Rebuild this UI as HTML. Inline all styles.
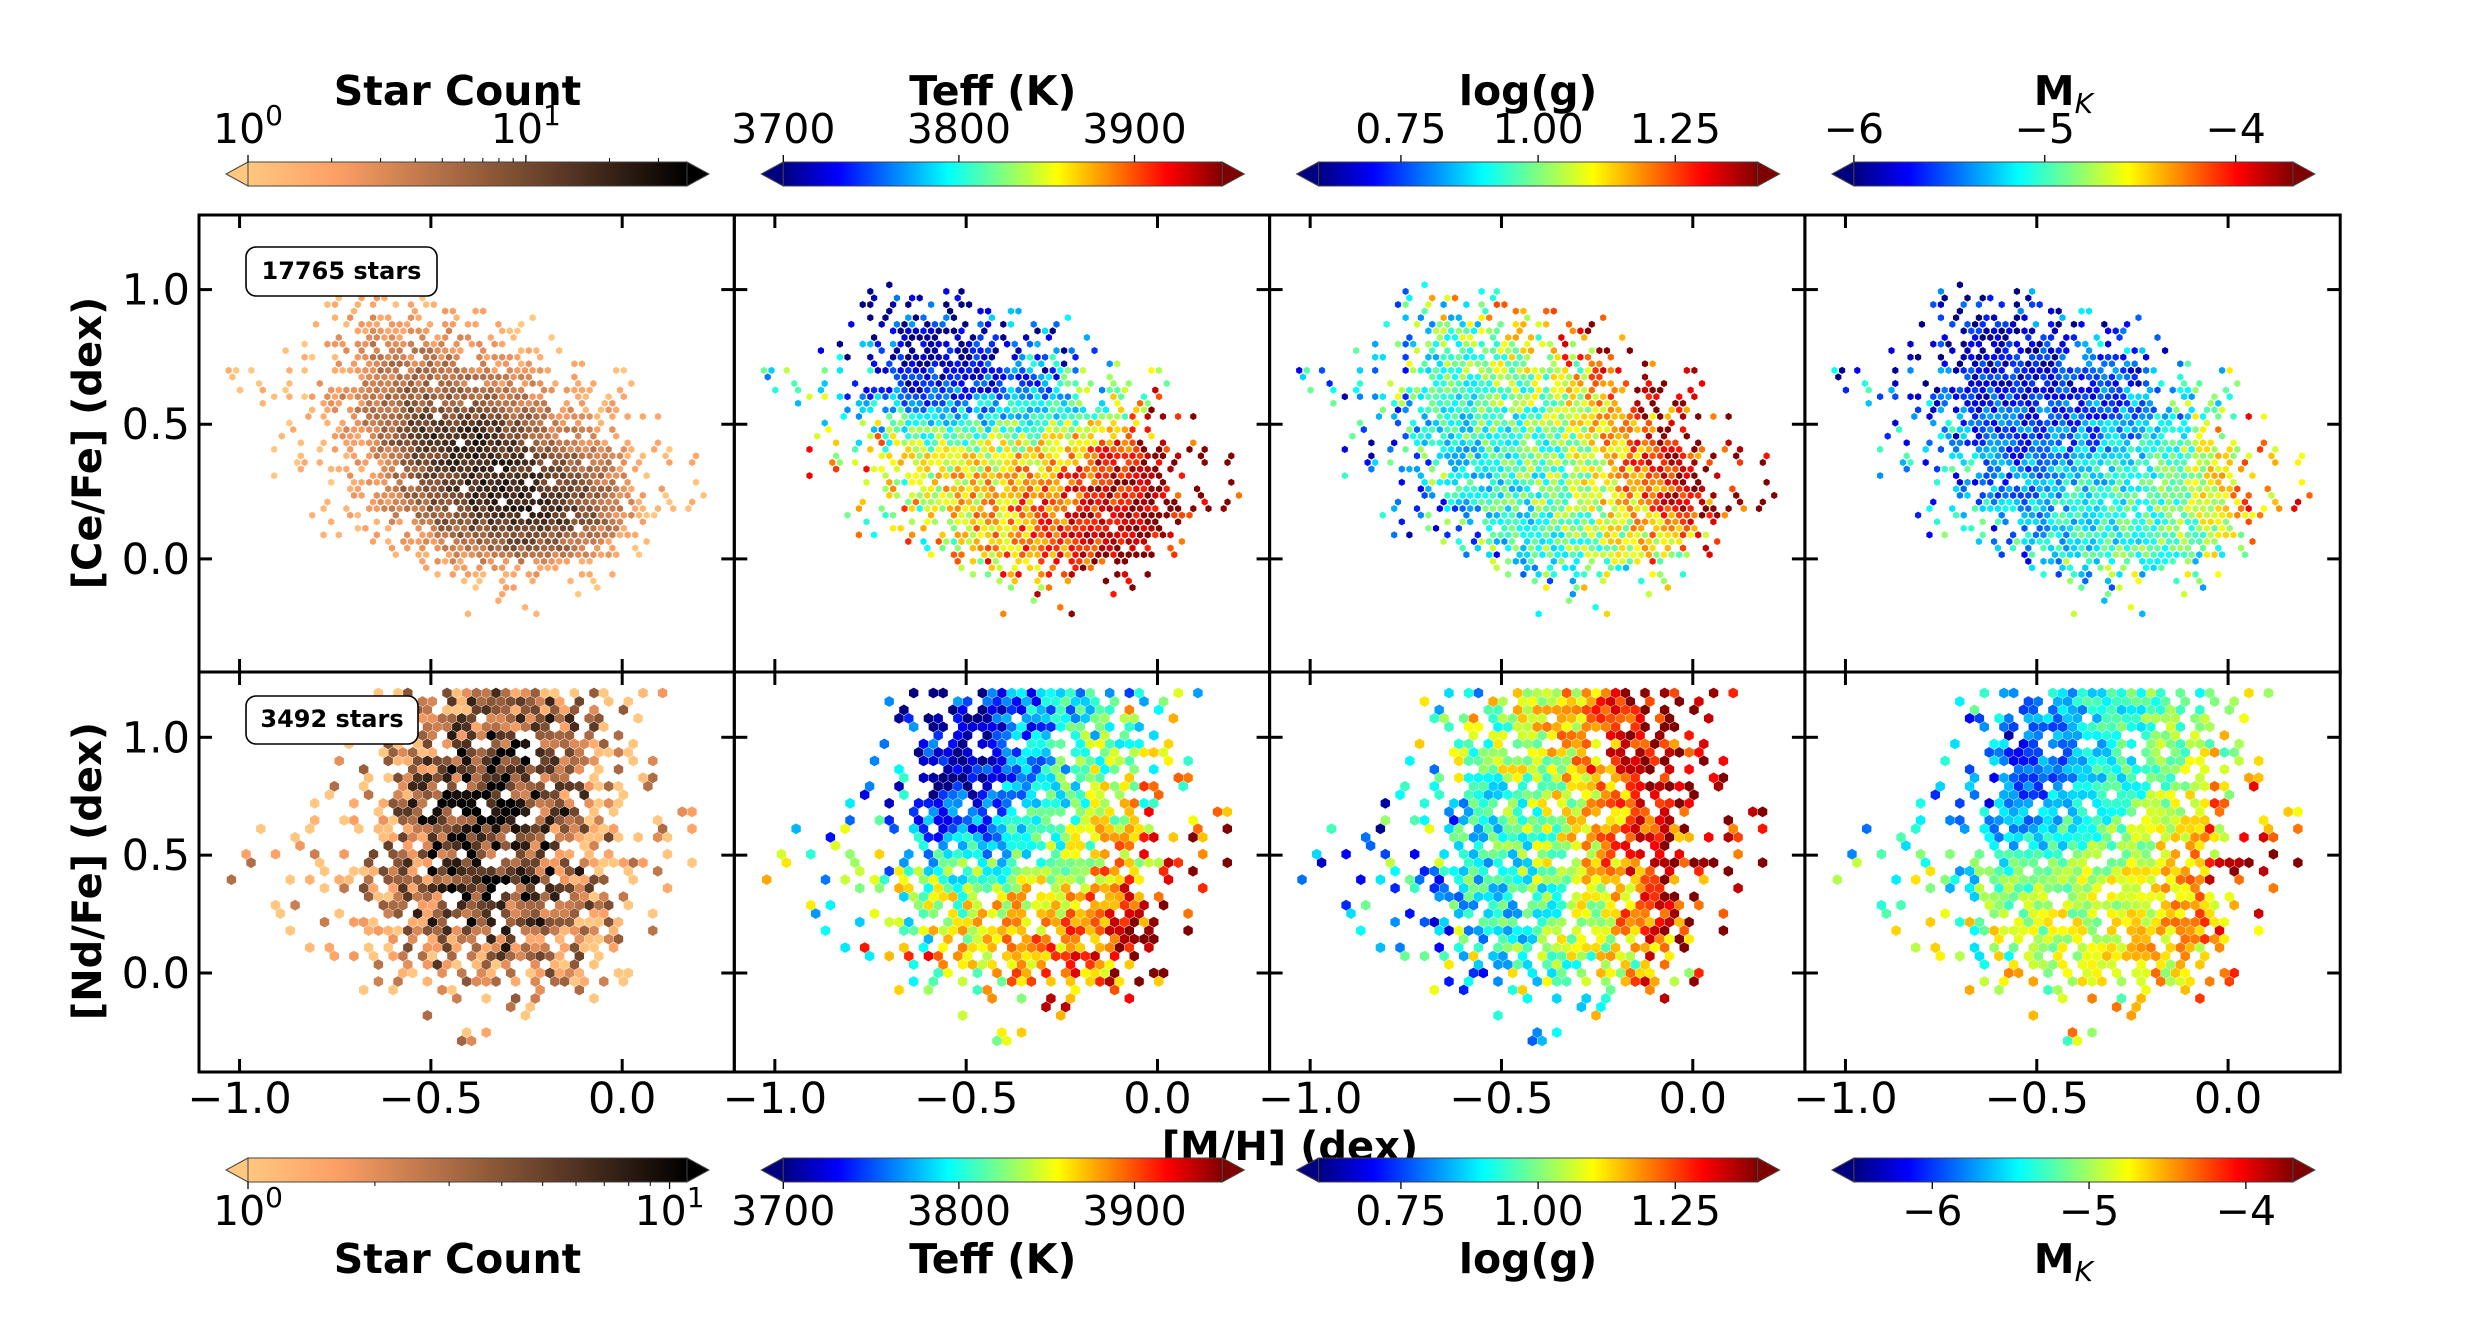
<!DOCTYPE html>
<html><head><meta charset="utf-8"><title>Abundance vs metallicity hexbin grid</title>
<style>
html,body{margin:0;padding:0;background:#fff;}
svg{display:block;font-family:"DejaVu Sans","Liberation Sans",sans-serif;}
</style></head>
<body>
<svg id="chart" width="2488" height="1337" viewBox="0 0 2488 1337" xmlns="http://www.w3.org/2000/svg">
<rect x="0" y="0" width="2488" height="1337" fill="#fff"/>
<defs id="defs"></defs>
<g id="dots"></g>
<g id="frames"></g>
<text x="1290" y="1160" font-size="40" font-weight="bold" text-anchor="middle">[M/H] (dex)</text>
<g id="cbars"></g>
<text transform="translate(101,443) rotate(-90)" font-size="40" font-weight="bold" text-anchor="middle" font-family="DejaVu Sans, sans-serif">[Ce/Fe] (dex)</text>
<text transform="translate(101,871) rotate(-90)" font-size="40" font-weight="bold" text-anchor="middle" font-family="DejaVu Sans, sans-serif">[Nd/Fe] (dex)</text>
<g>
<rect x="246" y="247" width="191" height="49" rx="10" fill="#fff" stroke="#000" stroke-width="1.6"/>
<text x="341.5" y="279" font-size="24" font-weight="bold" text-anchor="middle">17765 stars</text>
</g>
<g>
<rect x="246" y="696" width="172" height="48" rx="10" fill="#fff" stroke="#000" stroke-width="1.6"/>
<text x="332" y="727" font-size="24" font-weight="bold" text-anchor="middle">3492 stars</text>
</g>
</svg>
<script>
// ---- data: coarse grids ----
const xCenters = [-0.95,-0.85,-0.75,-0.65,-0.55,-0.45,-0.35,-0.25,-0.15,-0.05,0.05,0.15];
const yCenters = [1.15,1.05,0.95,0.85,0.75,0.65,0.55,0.45,0.35,0.25,0.15,0.05,-0.05,-0.15,-0.25];
const xTicks = [-1.0,-0.5,0.0];
const xTickLabels = ["\u22121.0","\u22120.5","0.0"];
const yTicks = [0.0,0.5,1.0];
const yTickLabels = ["0.0","0.5","1.0"];
// relative star density (0-9) per bin, [Ce/Fe]
const densCe = [
[0,0,0,0,0,0,0,0,0,0,0,0],
[0,0,0,1,0,0,0,0,0,0,0,0],
[0,0,1,2,2,1,1,0,0,0,0,0],
[0,0,2,3,3,3,2,1,0,0,0,0],
[0,1,2,4,4,4,3,2,1,0,0,0],
[1,1,3,4,5,5,4,3,2,1,0,0],
[0,1,3,4,6,6,6,5,3,2,1,0],
[0,1,2,4,7,8,8,6,4,3,1,0],
[0,1,2,3,6,7,8,7,6,4,2,1],
[0,0,1,3,5,7,8,8,7,5,2,1],
[0,0,1,2,4,6,7,8,7,5,2,0],
[0,0,0,1,2,4,5,6,5,3,1,0],
[0,0,0,0,1,2,2,3,2,1,0,0],
[0,0,0,0,0,0,1,1,0,0,0,0],
[0,0,0,0,0,0,0,0,0,0,0,0]];
// relative star density (0-9) per bin, [Nd/Fe]
const densNd = [
[0,0,0,1,2,4,5,5,4,2,1,0],
[0,0,0,1,3,5,6,6,5,3,1,0],
[0,0,1,1,4,6,7,7,5,3,1,0],
[0,0,1,2,4,6,8,7,5,3,1,0],
[0,1,1,2,5,7,8,7,5,3,1,0],
[0,1,1,2,5,7,8,7,5,3,1,1],
[1,1,1,3,5,7,7,7,5,3,1,0],
[1,1,1,3,5,7,7,7,6,3,1,1],
[0,1,1,3,5,6,7,7,5,3,1,0],
[0,1,1,2,5,6,7,6,5,3,1,0],
[0,1,1,2,4,5,6,5,4,2,1,0],
[0,0,1,1,3,4,4,4,3,2,1,0],
[0,0,0,1,2,2,3,3,2,1,0,0],
[0,0,0,0,1,1,1,1,1,0,0,0],
[0,0,0,0,0,1,1,0,0,0,0,0]];
// mean Teff per bin
const teffCe = [
[3720,3720,3710,3710,3710,3715,3725,3740,3760,3780,3800,3800],
[3720,3720,3710,3710,3710,3715,3725,3740,3760,3780,3800,3800],
[3730,3720,3710,3710,3710,3715,3730,3745,3770,3790,3800,3800],
[3740,3730,3715,3710,3710,3720,3735,3750,3775,3800,3820,3820],
[3770,3750,3730,3715,3715,3725,3740,3760,3790,3820,3850,3850],
[3800,3780,3760,3735,3730,3740,3755,3775,3810,3850,3880,3900],
[3830,3820,3800,3780,3775,3780,3790,3800,3830,3880,3910,3930],
[3860,3850,3840,3830,3820,3825,3835,3850,3875,3910,3940,3950],
[3870,3860,3855,3850,3850,3860,3870,3885,3910,3930,3950,3950],
[3870,3860,3855,3850,3855,3865,3880,3900,3920,3940,3950,3950],
[3870,3860,3850,3850,3855,3870,3890,3905,3925,3945,3950,3950],
[3860,3850,3850,3850,3855,3870,3885,3900,3920,3940,3950,3950],
[3860,3850,3850,3850,3860,3870,3880,3900,3920,3940,3950,3950],
[3860,3850,3850,3850,3860,3870,3880,3900,3920,3940,3950,3950],
[3860,3850,3850,3850,3860,3870,3880,3900,3920,3940,3950,3950]];
const teffNd = [
[3740,3740,3730,3720,3710,3720,3760,3780,3800,3820,3820,3820],
[3740,3740,3730,3720,3710,3720,3760,3780,3810,3830,3840,3840],
[3760,3750,3740,3720,3710,3720,3760,3790,3820,3840,3850,3850],
[3770,3760,3750,3730,3715,3730,3770,3800,3830,3850,3860,3860],
[3780,3770,3760,3740,3725,3740,3780,3810,3840,3860,3880,3880],
[3790,3780,3770,3760,3745,3760,3790,3810,3840,3870,3890,3900],
[3800,3800,3790,3780,3770,3780,3800,3820,3850,3880,3910,3920],
[3830,3820,3810,3800,3800,3810,3820,3840,3860,3900,3920,3930],
[3840,3830,3830,3830,3830,3840,3850,3860,3880,3910,3930,3940],
[3840,3840,3840,3840,3840,3850,3860,3870,3890,3920,3940,3940],
[3840,3840,3840,3840,3850,3860,3870,3880,3900,3920,3940,3940],
[3850,3850,3850,3850,3860,3870,3880,3890,3910,3930,3940,3940],
[3850,3850,3850,3850,3860,3870,3880,3890,3910,3930,3940,3940],
[3850,3850,3850,3850,3860,3870,3880,3890,3910,3930,3940,3940],
[3850,3850,3850,3850,3860,3870,3880,3890,3910,3930,3940,3940]];
// mean log(g) per bin
const loggCe = [
[0.8,0.85,0.95,1.0,1.05,1.1,1.2,1.25,1.3,1.3,1.3,1.3],
[0.8,0.85,0.95,1.0,1.05,1.1,1.2,1.25,1.3,1.3,1.3,1.3],
[0.8,0.85,0.95,1.0,1.05,1.1,1.2,1.25,1.3,1.3,1.3,1.3],
[0.8,0.85,0.95,1.0,1.0,1.1,1.15,1.25,1.3,1.35,1.35,1.35],
[0.8,0.85,0.9,0.95,1.0,1.05,1.1,1.2,1.3,1.35,1.35,1.35],
[0.8,0.85,0.9,0.95,0.97,1.0,1.05,1.15,1.28,1.35,1.38,1.38],
[0.8,0.85,0.9,0.92,0.95,0.97,1.02,1.12,1.25,1.35,1.38,1.38],
[0.8,0.8,0.85,0.9,0.93,0.95,1.0,1.1,1.22,1.33,1.38,1.38],
[0.75,0.8,0.85,0.88,0.92,0.95,1.0,1.08,1.2,1.32,1.38,1.38],
[0.75,0.8,0.85,0.85,0.9,0.95,1.0,1.08,1.18,1.3,1.36,1.38],
[0.75,0.8,0.82,0.85,0.9,0.93,0.98,1.05,1.12,1.25,1.32,1.35],
[0.75,0.78,0.8,0.85,0.88,0.92,0.97,1.02,1.08,1.15,1.2,1.25],
[0.75,0.78,0.8,0.85,0.88,0.9,0.95,1.0,1.05,1.1,1.1,1.1],
[0.75,0.78,0.8,0.85,0.88,0.9,0.95,1.0,1.05,1.1,1.1,1.1],
[0.75,0.78,0.8,0.85,0.88,0.9,0.95,1.0,1.05,1.1,1.1,1.1]];
const loggNd = [
[0.8,0.85,0.9,0.95,1.0,1.05,1.1,1.2,1.3,1.38,1.38,1.38],
[0.8,0.85,0.9,0.95,1.0,1.05,1.1,1.2,1.3,1.38,1.38,1.38],
[0.8,0.85,0.9,0.95,1.0,1.05,1.1,1.2,1.3,1.38,1.38,1.38],
[0.8,0.85,0.9,0.95,1.0,1.05,1.1,1.2,1.3,1.38,1.38,1.38],
[0.75,0.8,0.85,0.9,0.92,0.95,1.05,1.15,1.25,1.35,1.38,1.38],
[0.75,0.8,0.85,0.9,0.92,0.95,1.05,1.15,1.25,1.35,1.38,1.38],
[0.75,0.8,0.85,0.9,0.92,0.95,1.05,1.15,1.25,1.35,1.38,1.38],
[0.75,0.8,0.85,0.9,0.92,0.95,1.05,1.15,1.25,1.35,1.38,1.38],
[0.75,0.8,0.85,0.88,0.9,0.93,1.0,1.08,1.2,1.3,1.35,1.35],
[0.75,0.8,0.85,0.88,0.9,0.93,1.0,1.08,1.2,1.3,1.35,1.35],
[0.75,0.8,0.85,0.88,0.9,0.93,1.0,1.08,1.2,1.3,1.35,1.35],
[0.8,0.85,0.88,0.9,0.92,0.95,1.0,1.05,1.1,1.2,1.25,1.25],
[0.8,0.85,0.88,0.9,0.92,0.95,1.0,1.05,1.1,1.2,1.25,1.25],
[0.8,0.85,0.88,0.9,0.92,0.95,1.0,1.05,1.1,1.2,1.25,1.25],
[0.8,0.85,0.88,0.9,0.92,0.95,1.0,1.05,1.1,1.2,1.25,1.25]];
// mean M_K per bin
const mkCe = [
[-5.9,-5.9,-5.8,-5.8,-5.8,-5.7,-5.6,-5.5,-5.4,-5.3,-5.3,-5.3],
[-5.9,-5.9,-5.8,-5.8,-5.8,-5.7,-5.6,-5.5,-5.4,-5.3,-5.3,-5.3],
[-5.9,-5.9,-5.8,-5.8,-5.8,-5.7,-5.6,-5.5,-5.4,-5.3,-5.3,-5.3],
[-5.8,-5.8,-5.8,-5.8,-5.8,-5.7,-5.6,-5.5,-5.4,-5.2,-5.0,-5.0],
[-5.6,-5.7,-5.7,-5.8,-5.8,-5.7,-5.6,-5.5,-5.4,-5.2,-4.8,-4.8],
[-5.5,-5.5,-5.6,-5.7,-5.7,-5.7,-5.6,-5.5,-5.3,-5.0,-4.6,-4.5],
[-5.3,-5.4,-5.5,-5.6,-5.6,-5.6,-5.5,-5.4,-5.2,-4.9,-4.4,-4.3],
[-5.2,-5.3,-5.4,-5.5,-5.6,-5.5,-5.4,-5.3,-5.1,-4.7,-4.3,-4.2],
[-5.2,-5.2,-5.3,-5.4,-5.5,-5.3,-5.2,-5.1,-4.9,-4.6,-4.2,-4.1],
[-5.2,-5.2,-5.3,-5.4,-5.4,-5.2,-5.1,-5.0,-4.9,-4.6,-4.3,-4.2],
[-5.2,-5.2,-5.3,-5.3,-5.3,-5.2,-5.1,-5.0,-4.9,-4.7,-4.5,-4.3],
[-5.3,-5.3,-5.3,-5.3,-5.3,-5.2,-5.1,-5.0,-4.9,-4.8,-4.7,-4.6],
[-5.3,-5.3,-5.3,-5.3,-5.3,-5.2,-5.1,-5.0,-5.0,-4.9,-4.8,-4.6],
[-5.3,-5.3,-5.3,-5.3,-5.3,-5.2,-5.1,-5.0,-5.0,-4.9,-4.8,-4.6],
[-5.3,-5.3,-5.3,-5.3,-5.3,-5.2,-5.1,-5.0,-5.0,-4.9,-4.8,-4.6]];
const mkNd = [
[-5.5,-5.5,-5.4,-5.6,-5.8,-5.6,-5.4,-5.3,-5.2,-5.0,-4.9,-4.9],
[-5.5,-5.5,-5.5,-5.8,-6.0,-5.8,-5.5,-5.3,-5.1,-5.0,-4.9,-4.9],
[-5.5,-5.5,-5.6,-5.9,-6.0,-5.9,-5.5,-5.3,-5.1,-4.9,-4.8,-4.8],
[-5.5,-5.5,-5.6,-5.9,-6.0,-5.8,-5.5,-5.3,-5.1,-4.8,-4.6,-4.6],
[-5.4,-5.4,-5.6,-5.8,-5.9,-5.7,-5.5,-5.3,-5.0,-4.7,-4.5,-4.5],
[-5.3,-5.3,-5.4,-5.6,-5.7,-5.5,-5.3,-5.1,-4.9,-4.6,-4.4,-4.4],
[-5.3,-5.3,-5.3,-5.5,-5.5,-5.4,-5.2,-5.0,-4.8,-4.5,-4.3,-4.2],
[-5.2,-5.2,-5.2,-5.3,-5.3,-5.2,-5.0,-4.9,-4.7,-4.4,-4.2,-4.2],
[-5.1,-5.1,-5.1,-5.2,-5.1,-5.0,-4.9,-4.8,-4.6,-4.4,-4.2,-4.2],
[-5.1,-5.1,-5.1,-5.1,-5.0,-4.9,-4.9,-4.8,-4.6,-4.4,-4.3,-4.3],
[-5.1,-5.1,-5.0,-5.0,-5.0,-4.9,-4.8,-4.7,-4.6,-4.4,-4.3,-4.3],
[-5.0,-5.0,-5.0,-5.0,-4.9,-4.8,-4.8,-4.7,-4.6,-4.5,-4.4,-4.4],
[-5.0,-5.0,-5.0,-5.0,-4.9,-4.8,-4.8,-4.7,-4.6,-4.5,-4.4,-4.4],
[-5.0,-5.0,-5.0,-5.0,-4.9,-4.8,-4.8,-4.7,-4.6,-4.5,-4.4,-4.4],
[-5.0,-5.0,-5.0,-5.0,-4.9,-4.8,-4.8,-4.7,-4.6,-4.5,-4.4,-4.4]];
// colour-scale ranges
const countMaxCe = 38, countMaxNd = 11;
const teffRange = [3700,3950];
const loggRange = [0.6,1.4];
const mkRangeCe = [-6.0,-3.7], mkRangeNd = [-6.5,-3.7];
const teffTicks = [3700,3800,3900];
const loggTicks = [0.75,1.00,1.25];
const loggTickLabels = ["0.75","1.00","1.25"];
const mkTicks = [-6,-5,-4];
const mkTickLabels = ["\u22126","\u22125","\u22124"];

// ---- layout ----
const NS = 'http://www.w3.org/2000/svg';
const panelLefts = [199, 734.3, 1269.6, 1804.9];
const panelW = 535.3;
const rows = [{top:215, h:457}, {top:672, h:400}];
const xDom = [-1.106, 0.293], yDom = [-0.42, 1.277];

function mk(tag, attrs, parent){
  const e = document.createElementNS(NS, tag);
  for (const k in attrs) e.setAttribute(k, attrs[k]);
  parent.appendChild(e);
  return e;
}
function clamp(v){return v<0?0:(v>1?1:v);}
function jet(t){
  t = clamp(t);
  return [clamp(1.5-Math.abs(4*t-3)), clamp(1.5-Math.abs(4*t-2)), clamp(1.5-Math.abs(4*t-1))];
}
function copperR(t){
  const v = 1-clamp(t);
  return [Math.min(1,1.25*v), 0.7812*v, 0.4975*v];
}
function rgb(c){return 'rgb('+Math.round(c[0]*255)+','+Math.round(c[1]*255)+','+Math.round(c[2]*255)+')';}
function hash(i,j,k){const s=Math.sin(i*12.9898+j*78.233+k*37.719)*43758.5453; return s-Math.floor(s);}
function sx(left, v){return left + (v - xDom[0])/(xDom[1]-xDom[0])*panelW;}
function sy(row, v){return row.top + (yDom[1]-v)/(yDom[1]-yDom[0])*row.h;}
function invx(left, px){return xDom[0] + (px-left)/panelW*(xDom[1]-xDom[0]);}
function invy(row, py){return yDom[1] - (py-row.top)/row.h*(yDom[1]-yDom[0]);}
function sample(grid, x, y, zeroOut){
  const fx = (x - xCenters[0])/0.1, fy = (yCenters[0] - y)/0.1;
  if (zeroOut && (fx < -0.8 || fx > xCenters.length-0.2 || fy < -0.7 || fy > yCenters.length-0.3)) return 0;
  const cx = Math.max(0, Math.min(xCenters.length-1.0001, fx));
  const cy = Math.max(0, Math.min(yCenters.length-1.0001, fy));
  const i0 = Math.floor(cx), j0 = Math.floor(cy), ax = cx-i0, ay = cy-j0;
  return grid[j0][i0]*(1-ax)*(1-ay) + grid[j0][i0+1]*ax*(1-ay) + grid[j0+1][i0]*(1-ax)*ay + grid[j0+1][i0+1]*ax*ay;
}

const dotsG = document.getElementById('dots');
const framesG = document.getElementById('frames');
const cbarsG = document.getElementById('cbars');
const defs = document.getElementById('defs');

const panelSpecs = [
  [{kind:'count', max:countMaxCe}, {kind:'val', grid:teffCe, range:teffRange, spread:70},
   {kind:'val', grid:loggCe, range:loggRange, spread:0.22}, {kind:'val', grid:mkCe, range:mkRangeCe, spread:0.55}],
  [{kind:'count', max:countMaxNd}, {kind:'val', grid:teffNd, range:teffRange, spread:80},
   {kind:'val', grid:loggNd, range:loggRange, spread:0.25}, {kind:'val', grid:mkNd, range:mkRangeNd, spread:0.6}]
];
const densGrids = [densCe, densNd];
const hexStep = [7.6, 9.8];
const hexR = [3.6, 5.4];
const yMaxData = [1.2, 1.215];
const fillProb = [0.97, 0.88];

function hexPoints(cx, cy, r){
  let s = '';
  for (let k=0;k<6;k++){
    const a = Math.PI/180*(60*k-90);
    s += (cx + r*Math.cos(a)).toFixed(1) + ',' + (cy + r*Math.sin(a)).toFixed(1) + ' ';
  }
  return s;
}

for (let r=0;r<2;r++){
  const row = rows[r];
  const step = hexStep[r], rowStep = step*Math.sqrt(3)/2;
  for (let c=0;c<4;c++){
    const left = panelLefts[c];
    const spec = panelSpecs[r][c];
    const g = mk('g', {}, dotsG);
    
    
    let jj = 0;
    for (let py = row.top + 4; py < row.top + row.h - 2; py += rowStep, jj++){
      const off = (jj%2) ? step/2 : 0;
      for (let ii=0, px = left + 3 + off; px < left + panelW - 2; px += step, ii++){
        const x = invx(left, px), y = invy(row, py);
        if (y > yMaxData[r]) continue;
        const d = sample(densGrids[r], x, y, true);
        const h = hash(ii, jj, r*7+1);
        if (d < 0.2) continue;
        const prob = Math.min(fillProb[r], Math.pow(d/4.5, 1.2));
        if (h > prob) continue;
        let col;
        if (spec.kind === 'count'){
          const h2 = hash(ii+31, jj+17, r*5+3);
          const base = Math.pow(Math.min(d,9)/9, 1.2) * (r===0 ? 0.95 : 1.0);
          const lg = Math.log10(spec.max)*base + (h2-0.5)*(r===0?0.4:0.9);
          col = copperR(Math.max(0, lg)/Math.log10(spec.max));
        } else {
          const h3 = hash(ii+5, jj+11, c*3+r);
          const v = sample(spec.grid, x, y, false) + (h3-0.5)*spec.spread*(d<3?1.8:1);
          col = jet((v - spec.range[0])/(spec.range[1]-spec.range[0]));
        }
        const p = mk('polygon', {points: hexPoints(px, py, hexR[r]), fill: rgb(col)}, g);
        
        
      }
    }
  }
}

// ---- frames, ticks, labels ----
for (let r=0;r<2;r++){
  const row = rows[r];
  for (let c=0;c<4;c++){
    const left = panelLefts[c];
    const fr = mk('rect', {x:left, y:row.top, width:panelW, height:row.h, fill:'none', stroke:'#000', 'stroke-width':3}, framesG);
    
    
    for (let k=0;k<xTicks.length;k++){
      const X = sx(left, xTicks[k]);
      const t1 = mk('line', {x1:X, y1:row.top, x2:X, y2:row.top+13, stroke:'#000', 'stroke-width':3}, framesG);
      
      
      const t2 = mk('line', {x1:X, y1:row.top+row.h, x2:X, y2:row.top+row.h-13, stroke:'#000', 'stroke-width':3}, framesG);
      
      
      if (r===1){
        const tl = mk('text', {x:X, y:1113, 'font-size':43, 'text-anchor':'middle'}, framesG);
        tl.textContent = xTickLabels[k];
        
        
      }
    }
    for (let k=0;k<yTicks.length;k++){
      const Y = sy(row, yTicks[k]);
      const t1 = mk('line', {x1:left, y1:Y, x2:left+13, y2:Y, stroke:'#000', 'stroke-width':3}, framesG);
      
      
      const t2 = mk('line', {x1:left+panelW, y1:Y, x2:left+panelW-13, y2:Y, stroke:'#000', 'stroke-width':3}, framesG);
      
      
      if (c===0){
        const tl = mk('text', {x:190, y:Y+15, 'font-size':43, 'text-anchor':'end'}, framesG);
        tl.textContent = yTickLabels[k];
        
        
      }
    }
  }
}

// ---- colorbars ----
function colorbar(idx, c, top, cmapFn, fracTicks, labels, minorFracs, title, titleY, labelY, tickUp){
  const left = panelLefts[c] + 49, w = 439, h = 24, tri = 22;
  const gid = 'grad'+idx;
  const grad = mk('linearGradient', {id:gid, x1:'0', y1:'0', x2:'1', y2:'0'}, defs);
  for (let s=0;s<=32;s++){
    mk('stop', {offset:(s/32), 'stop-color':rgb(cmapFn(s/32))}, grad);
  }
  const g = mk('g', {}, cbarsG);
  
  
  const lt = mk('polygon', {points:(left)+','+top+' '+(left-tri)+','+(top+h/2)+' '+left+','+(top+h), fill:rgb(cmapFn(0)), stroke:'#444', 'stroke-width':1}, g);
  
  
  const rt = mk('polygon', {points:(left+w)+','+top+' '+(left+w+tri)+','+(top+h/2)+' '+(left+w)+','+(top+h), fill:rgb(cmapFn(1)), stroke:'#444', 'stroke-width':1}, g);
  
  
  const body = mk('rect', {x:left, y:top, width:w, height:h, fill:'url(#'+gid+')', stroke:'#444', 'stroke-width':1}, g);
  
  
  const ty = tickUp ? top : top+h;
  const dir = tickUp ? -1 : 1;
  for (let k=0;k<fracTicks.length;k++){
    const X = left + fracTicks[k]*w;
    const tk = mk('line', {x1:X, y1:ty, x2:X, y2:ty+dir*7, stroke:'#000', 'stroke-width':1.3}, g);
    
    
    const tl = mk('text', {x:X, y:labelY, 'font-size':41, 'text-anchor':'middle'}, g);
    
    
    if (Array.isArray(labels[k])){
      const a = mk('tspan', {}, tl); a.textContent = labels[k][0];
      const b = mk('tspan', {'font-size':28, dy:-18}, tl); b.textContent = labels[k][1];
    } else tl.textContent = labels[k];
  }
  for (let k=0;k<minorFracs.length;k++){
    const X = left + minorFracs[k]*w;
    const mt = mk('line', {x1:X, y1:ty, x2:X, y2:ty+dir*4, stroke:'#000', 'stroke-width':1}, g);
    
    
  }
  const tt = mk('text', {x:left + w/2 - 10, y:titleY, 'font-size':41, 'font-weight':'bold', 'text-anchor':'middle'}, g);
  
  
  if (title === 'MK'){
    const a = mk('tspan', {}, tt); a.textContent = 'M';
    const b = mk('tspan', {'font-size':28, 'font-weight':'normal', 'font-style':'italic', dy:8}, tt); b.textContent = 'K';
  } else tt.textContent = title;
}
function linF(v, rg){return (v-rg[0])/(rg[1]-rg[0]);}
function logMinor(max){const out=[];for(let d=1;d<=max;d*=10){for(let m=2;m<=9;m++){const v=d*m;if(v<=max)out.push(Math.log10(v)/Math.log10(max));}}return out;}
const cbRows = [{top:162, titleY:105, labelY:143, up:true, cmax:countMaxCe, mk:mkRangeCe},
                {top:1158, titleY:1273, labelY:1225, up:false, cmax:countMaxNd, mk:mkRangeNd}];
for (let r=0;r<2;r++){
  const cr = cbRows[r];
  colorbar('count'+r, 0, cr.top, copperR, [0, 1/Math.log10(cr.cmax)], [['10','0'],['10','1']], logMinor(cr.cmax), 'Star Count', cr.titleY, cr.labelY, cr.up);
  colorbar('teff'+r, 1, cr.top, jet, teffTicks.map(v=>linF(v,teffRange)), teffTicks.map(String), [], 'Teff (K)', cr.titleY, cr.labelY, cr.up);
  colorbar('logg'+r, 2, cr.top, jet, loggTicks.map(v=>linF(v,loggRange)), loggTickLabels, [], 'log(g)', cr.titleY, cr.labelY, cr.up);
  colorbar('mk'+r, 3, cr.top, jet, mkTicks.map(v=>linF(v,cr.mk)), mkTickLabels, [], 'MK', cr.titleY, cr.labelY, cr.up);
}
</script>
</body></html>
